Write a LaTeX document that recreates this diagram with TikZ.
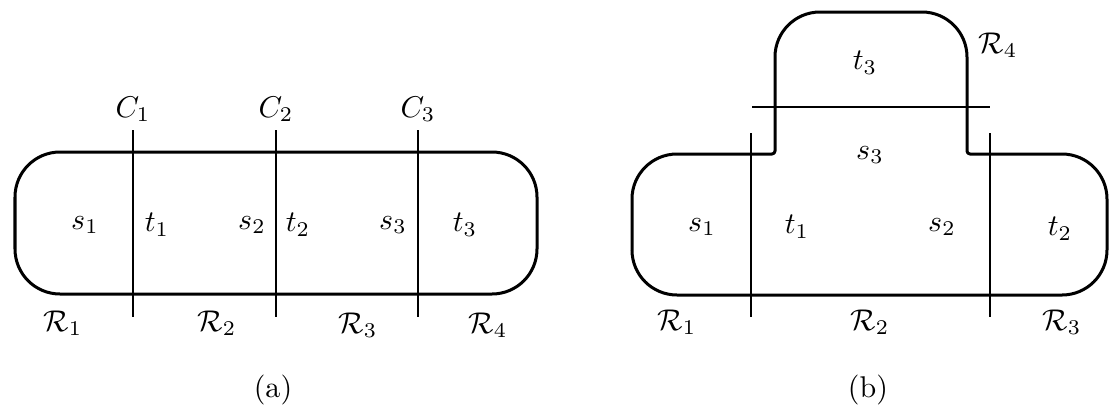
\documentclass[tikz,border=0pt]{standalone}
\begin{document}
\begin{tikzpicture}[x=0.3333pt,y=0.3333pt,
  outline/.style={line width=1pt,line join=round},
  cut/.style={line width=0.5pt},
  lab/.style={inner sep=0pt}]
\useasboundingbox (0,0) rectangle (1109,407);
% (a)
\draw[outline,rounded corners=15pt] (15,113) rectangle (537,255);
\coordinate (c1t) at (133,277); \coordinate (c1b) at (133,90);
\coordinate (c2t) at (276,277); \coordinate (c2b) at (276,90);
\coordinate (c3t) at (418,277); \coordinate (c3b) at (418,90);
\draw[cut] (c1t) -- (c1b);
\draw[cut] (c2t) -- (c2b);
\draw[cut] (c3t) -- (c3b);
\node[lab] (C1) at (133,298) {$C_1$};
\node[lab] (C2) at (276,298) {$C_2$};
\node[lab] (C3) at (418,298) {$C_3$};
\node[lab] (as1) at (85,182) {$s_1$};
\node[lab] (at1) at (157,182) {$t_1$};
\node[lab] (as2) at (252,182) {$s_2$};
\node[lab] (at2) at (298,182) {$t_2$};
\node[lab] (as3) at (393,182) {$s_3$};
\node[lab] (at3) at (465,182) {$t_3$};
\node[lab] (aR1) at (63,84) {$\mathcal{R}_1$};
\node[lab] (aR2) at (217,84) {$\mathcal{R}_2$};
\node[lab] (aR3) at (358,82) {$\mathcal{R}_3$};
\node[lab] (aR4) at (488,82) {$\mathcal{R}_4$};
\node[lab] (capa) at (273,17) {(a)};
% (b)
\draw[outline]
  (632,157) -- (632,208) arc[start angle=180,end angle=90,radius=15pt]
  -- (772,253) arc[start angle=-90,end angle=0,radius=1pt]
  -- (775,350) arc[start angle=180,end angle=90,radius=15pt]
  -- (922,395) arc[start angle=90,end angle=0,radius=15pt]
  -- (967,256) arc[start angle=180,end angle=270,radius=1pt]
  -- (1062,253) arc[start angle=90,end angle=0,radius=15pt]
  -- (1107,157) arc[start angle=0,end angle=-90,radius=15pt]
  -- (677,112) arc[start angle=270,end angle=180,radius=15pt] -- cycle;
\coordinate (h1) at (752,300); \coordinate (h2) at (990,300);
\coordinate (d1t) at (751,274); \coordinate (d1b) at (751,90);
\coordinate (d2t) at (990,274); \coordinate (d2b) at (990,90);
\draw[cut] (h1) -- (h2);
\draw[cut] (d1t) -- (d1b);
\draw[cut] (d2t) -- (d2b);
\node[lab] (bt3) at (865,344) {$t_3$};
\node[lab] (bs3) at (870,252) {$s_3$};
\node[lab] (bR4) at (998,362) {$\mathcal{R}_4$};
\node[lab] (bs1) at (702,180) {$s_1$};
\node[lab] (bt1) at (797,180) {$t_1$};
\node[lab] (bs2) at (942,180) {$s_2$};
\node[lab] (bt2) at (1060,178) {$t_2$};
\node[lab] (bR1) at (677,85) {$\mathcal{R}_1$};
\node[lab] (bR2) at (870,85) {$\mathcal{R}_2$};
\node[lab] (bR3) at (1062,85) {$\mathcal{R}_3$};
\node[lab] (capb) at (868,17) {(b)};
\end{tikzpicture}
\end{document}
